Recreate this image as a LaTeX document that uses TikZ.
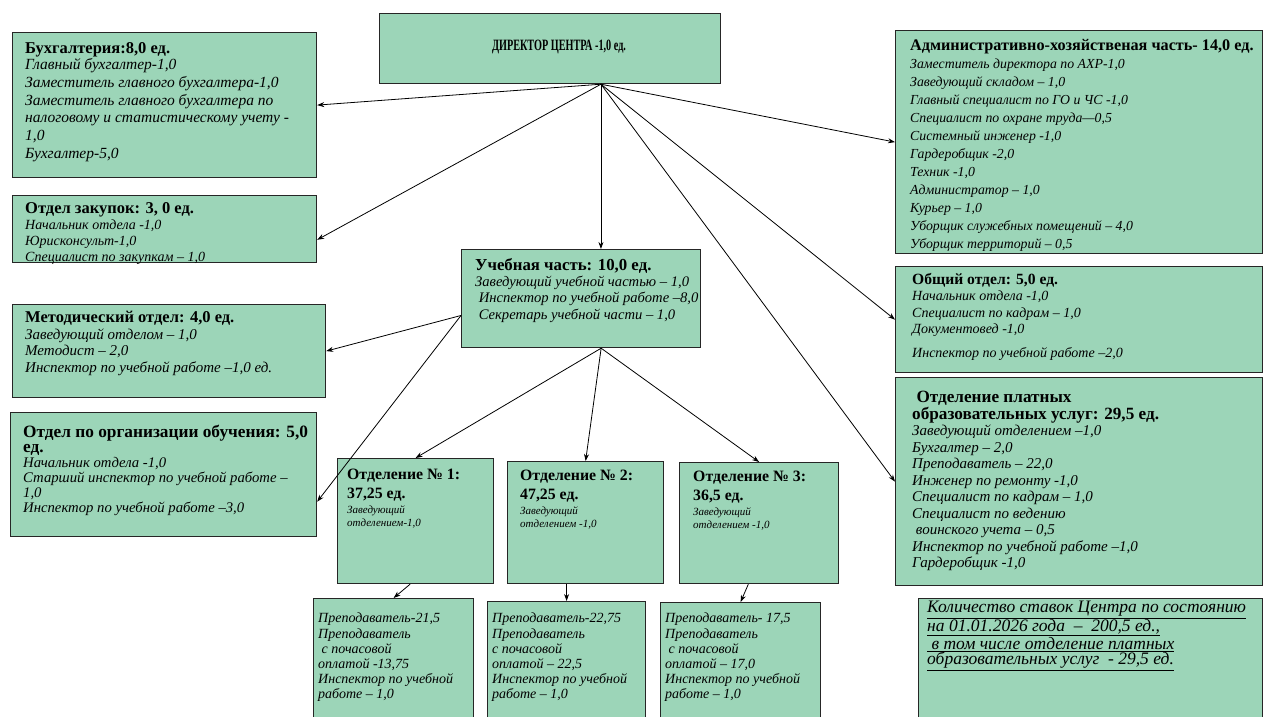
\documentclass[tikz,border=0pt]{standalone}
\usepackage{fontspec}
\usepackage{graphicx}
\setmainfont{Liberation Serif}
\usetikzlibrary{arrows.meta}
\definecolor{boxgreen}{RGB}{156,213,184}
\newcommand{\fs}[2]{\fontsize{#1}{#2}\selectfont}
\newcommand{\hdr}[2][16.5]{{\upshape\bfseries\fontsize{#1}{18}\selectfont #2}}
\begin{document}
\begin{tikzpicture}[x=1pt, y=-1pt,
    box/.style={draw=black!85, line width=1.2pt, fill=boxgreen, anchor=north west, inner sep=0pt},
    txt/.style={anchor=north west, align=left, inner sep=0pt},
    arr/.style={-{Stealth[length=7pt, width=5pt]}, line width=0.8pt}
]
\clip (0,0) rectangle (1269,716);
\fill[white] (0,0) rectangle (1269,716);

% --- Директор ---
\node[box, minimum width=341pt, minimum height=70pt] (dir) at (379,13) {};
\node (dirt) at (559,47) {\scalebox{0.68}[1.05]{\bfseries\fs{15}{17}ДИРЕКТОР ЦЕНТРА -1,0 ед.}};

% --- левая колонка ---
\node[box, minimum width=304pt, minimum height=145pt] (buh) at (12,32) {};
\node[txt, font=\itshape\fs{15.5}{17.8}] (buht) at ([shift={(13,10)}]buh.north west)
  {\hdr[16.5]{Бухгалтерия:8,0 ед.}\\[-1.5pt]
  Главный бухгалтер-1,0\\
  Заместитель главного бухгалтера-1,0\\
  Заместитель главного бухгалтера по\\
  налоговому и статистическому учету -\\
  1,0\\
  Бухгалтер-5,0};

\node[box, minimum width=304pt, minimum height=67pt] (zak) at (12,195) {};
\node[txt, font=\itshape\fs{14}{16}] (zakt) at ([shift={(13,7)}]zak.north west)
  {\hdr{Отдел закупок: 3, 0 ед.}\\
  Начальник отдела -1,0\\
  Юрисконсульт-1,0\\
  Специалист по закупкам – 1,0};

\node[box, minimum width=313pt, minimum height=93pt] (met) at (12,304) {};
\node[txt, font=\itshape\fs{15}{16.5}] (mett) at ([shift={(13,7)}]met.north west)
  {\hdr{Методический отдел: 4,0 ед.}\\
  Заведующий отделом – 1,0\\
  Методист – 2,0\\
  Инспектор по учебной работе –1,0 ед.};

\node[box, minimum width=306pt, minimum height=124pt] (org) at (10,412) {};
\node[txt, font=\itshape\fs{14.7}{15}] (orgt) at ([shift={(13,13)}]org.north west)
  {\hdr[17.3]{Отдел по организации обучения: 5,0}\\
  \hdr[17.3]{ед.}\\
  Начальник отдела -1,0\\
  Старший инспектор по учебной работе –\\
  1,0\\
  Инспектор по учебной работе –3,0};

% --- центр ---
\node[box, minimum width=239pt, minimum height=98pt] (ucheb) at (461,249) {};
\node[txt, font=\itshape\fs{14.6}{16.3}] (ucht) at ([shift={(14,9)}]ucheb.north west)
  {\hdr[16.8]{Учебная часть: 10,0 ед.}\\
  Заведующий учебной частью – 1,0\\
  \ Инспектор по учебной работе –8,0\\
  \ Секретарь учебной части – 1,0};

\node[box, minimum width=156pt, minimum height=125pt] (otd1) at (337,458) {};
\node[txt, font=\itshape\fs{11}{13}] (otd1t) at ([shift={(10,11)}]otd1.north west)
  {\hdr[15.8]{Отделение № 1:}\\[5pt] \hdr[15.8]{37,25 ед.}\\[2pt] Заведующий\\ отделением-1,0};
\node[box, minimum width=156pt, minimum height=122pt] (otd2) at (507,461) {};
\node[txt, font=\itshape\fs{11}{13}] (otd2t) at ([shift={(13,9)}]otd2.north west)
  {\hdr[15.8]{Отделение № 2:}\\[5pt] \hdr[15.8]{47,25 ед.}\\[2pt] Заведующий\\ отделением -1,0};
\node[box, minimum width=159pt, minimum height=121pt] (otd3) at (679,462) {};
\node[txt, font=\itshape\fs{11}{13}] (otd3t) at ([shift={(14,9)}]otd3.north west)
  {\hdr[15.8]{Отделение № 3:}\\[5pt] \hdr[15.8]{36,5 ед.}\\[2pt] Заведующий\\ отделением -1,0};

\node[box, minimum width=160pt, minimum height=130pt] (prep1) at (313,598) {};
\node[txt, font=\itshape\fs{14}{15.2}] (prep1t) at ([shift={(5,15)}]prep1.north west)
  {Преподаватель-21,5\\ Преподаватель\\ \ с почасовой\\ оплатой -13,75\\ Инспектор по учебной\\ работе – 1,0};
\node[box, minimum width=158pt, minimum height=130pt] (prep2) at (487,601) {};
\node[txt, font=\itshape\fs{14}{15.2}] (prep2t) at ([shift={(5,12)}]prep2.north west)
  {Преподаватель-22,75\\ Преподаватель\\ с почасовой\\ оплатой – 22,5\\ Инспектор по учебной\\ работе – 1,0};
\node[box, minimum width=160pt, minimum height=130pt] (prep3) at (660,602) {};
\node[txt, font=\itshape\fs{14}{15.2}] (prep3t) at ([shift={(5,11)}]prep3.north west)
  {Преподаватель- 17,5\\ Преподаватель\\ \ с почасовой\\ оплатой – 17,0\\ Инспектор по учебной\\ работе – 1,0};

% --- правая колонка ---
\node[box, minimum width=367pt, minimum height=223pt] (ahch) at (895,30) {};
\node[txt, font=\itshape\fs{13.8}{18}] (ahcht) at ([shift={(15,9)}]ahch.north west)
  {\hdr[16.2]{Административно-хозяйственая часть- 14,0 ед.}\\
  Заместитель директора по АХР-1,0\\
  Заведующий складом – 1,0\\
  Главный специалист по ГО и ЧС -1,0\\
  Специалист по охране труда—0,5\\
  Системный инженер -1,0\\
  Гардеробщик -2,0\\
  Техник -1,0\\
  Администратор – 1,0\\
  Курьер – 1,0\\
  Уборщик служебных помещений – 4,0\\
  Уборщик территорий – 0,5};

\node[box, minimum width=367pt, minimum height=106pt] (obsh) at (895,266) {};
\node[txt, font=\itshape\fs{14}{16.5}] (obsht) at ([shift={(17,7)}]obsh.north west)
  {\hdr[15.6]{Общий отдел: 5,0 ед.}\\
  Начальник отдела -1,0\\
  Специалист по кадрам – 1,0\\
  Документовед -1,0\\[7pt]
  Инспектор по учебной работе –2,0};

\node[box, minimum width=367pt, minimum height=208pt] (plat) at (895,377) {};
\node[txt, font=\itshape\fs{15}{16.5}] (platt) at ([shift={(17,14)}]plat.north west)
  {\hdr[17.2]{\ Отделение платных}\\
  \hdr[17.2]{образовательных услуг: 29,5 ед.}\\
  Заведующий отделением –1,0\\
  Бухгалтер – 2,0\\
  Преподаватель – 22,0\\
  Инженер по ремонту -1,0\\
  Специалист по кадрам – 1,0\\
  Специалист по ведению\\
  \ воинского учета – 0,5\\
  Инспектор по учебной работе –1,0\\
  Гардеробщик -1,0};

\node[box, minimum width=344pt, minimum height=130pt] (itog) at (918,598) {};
\node[txt, font=\itshape\fs{17.5}{15.4}] (itogt) at ([shift={(9,3)}]itog.north west)
  {\underline{Количество ставок Центра по состоянию}\\
  \underline{на 01.01.2026 года \ –\ \ 200,5 ед.,}\\
  \underline{\ в том числе отделение платных}\\
  \underline{образовательных услуг \ - 29,5 ед.}};

% --- стрелки от директора ---
\draw[arr] (dir.-35) -- (buh.east);
\draw[arr] (dir.-35) -- (zak.-4);
\draw[arr] (dir.-35) -- (dir.-35 |- ucheb.north);
\draw[arr] (dir.-35) -- (ahch.west);
\draw[arr] (dir.-35) -- (obsh.west);
\draw[arr] (dir.-35) -- (plat.west);

% --- стрелки от учебной части ---
\draw[arr] (ucheb.-172) -- (met.east);
\draw[arr] (ucheb.-172) -- (org.-10);
\draw[arr] (ucheb.-68) -- (otd1.north);
\draw[arr] (ucheb.-68) -- (otd2.north);
\draw[arr] (ucheb.-68) -- (otd3.north);

% --- отделения ---
\draw[arr] (otd1.-95) -- (prep1.north);
\draw[arr] (otd2.south -| prep2.north) -- (prep2.north);
\draw[arr] (otd3.-100) -- (prep3.north);

\end{tikzpicture}
\end{document}
